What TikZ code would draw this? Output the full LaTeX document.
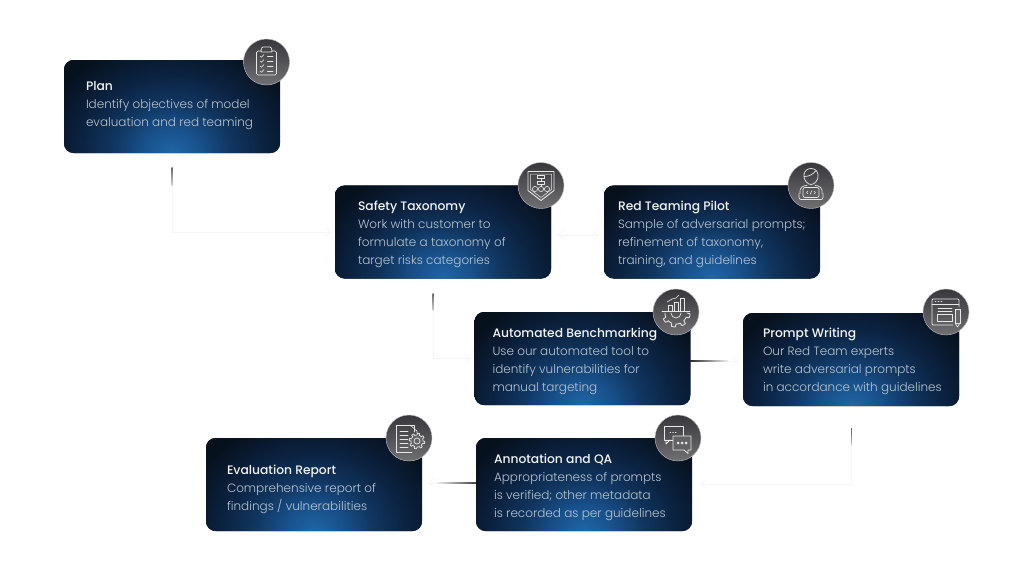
\documentclass[tikz,border=0pt]{standalone}
\usepackage{fontspec}
\setmainfont{Poppins Light}
\newfontfamily\titlefont{Poppins Medium}
\usetikzlibrary{arrows.meta,calc}
\definecolor{cardDark}{HTML}{07111E}
\definecolor{glowA}{HTML}{1F66A6}
\definecolor{glowB}{HTML}{18508A}
\definecolor{glowC}{HTML}{10355F}
\definecolor{glowD}{HTML}{0B2342}
\definecolor{bodyText}{HTML}{BAC5CF}
\definecolor{titleText}{HTML}{F2F4F6}
\definecolor{faintLine}{HTML}{F4F7F1}
\definecolor{badgeTop}{HTML}{37373C}
\definecolor{badgeBot}{HTML}{707073}
\definecolor{iconLine}{HTML}{E8E8E8}
\pgfdeclareradialshading{cardglow}{\pgfpointorigin}{%
 color(0bp)=(glowA); color(7bp)=(glowB); color(14bp)=(glowC); color(21bp)=(glowD); color(31bp)=(cardDark); color(50bp)=(cardDark)}
\tikzset{
 card/.style={minimum width=216pt,minimum height=93pt,inner sep=0pt,rounded corners=10pt,fill=cardDark},
 cardtext/.style={anchor=west,align=left,inner sep=0pt,text=bodyText,font=\fontsize{12}{18}\selectfont},
 badge/.style={circle,minimum size=46pt,inner sep=0pt,top color=badgeTop,bottom color=badgeBot,draw=white!55!badgeBot,line width=.4pt},
 ico/.style={draw=iconLine,line width=.7pt,line cap=round,line join=round},
 faint/.style={draw=faintLine,line width=.7pt,-{Straight Barb[length=5pt,width=9pt]}},
}
\newcommand{\glow}[1]{\begin{scope}
 \clip[rounded corners=10pt] (#1.south west) rectangle (#1.north east);
 \shade[shading=cardglow] ([xshift=-108pt,yshift=-93pt]#1.south) rectangle ([xshift=108pt,yshift=93pt]#1.south);
 \end{scope}}
\newcommand{\ttl}[1]{{\titlefont\color{titleText}\fontsize{12.3}{18}\selectfont #1}}
\begin{document}
\begin{tikzpicture}[x=1pt,y=-1pt]
\useasboundingbox[fill=white] (0,0) rectangle (1024,576);

% connectors
\node[card] (plan) at (172,106.5) {};
\node[card] (safety) at (443,232) {};
\node[card] (pilot) at (712,232) {};
\node[card] (bench) at (582.5,358.5) {};
\node[card] (prompt) at (851,359.5) {};
\node[card] (annot) at (584,484.5) {};
\node[card] (report) at (314,484.5) {};

\draw[faint,shorten <=14pt,shorten >=4pt] (plan.south) |- (safety.west);
\draw[faint,shorten <=14pt,shorten >=4pt] ([xshift=-10pt]safety.south) |- (bench.west);
\draw[faint,shorten <=22pt,shorten >=8pt] (prompt.south) |- (annot.east);
\draw[faint,shorten <=7pt,shorten >=5pt,{Straight Barb[length=5pt,width=9pt]}-{Straight Barb[length=5pt,width=9pt]}] (safety.east |- 0,235) -- (pilot.west |- 0,235);
\draw[faint,shorten >=5pt] (bench.east |- 0,361) -- (prompt.west |- 0,361);
\draw[faint,shorten >=6pt] (annot.west |- 0,483) -- (report.east |- 0,483);

% dark stubs that fade along the connectors
\shade[top color=black!60,bottom color=black!20] (171.7,167) rectangle (172.5,185);
\shade[top color=black!60,bottom color=black!20] (432.7,293) rectangle (433.5,310);
\shade[top color=black!65,bottom color=black!25] (851.1,428) rectangle (851.9,444);
\shade[left color=black!85,right color=black!5] (690,360.7) rectangle (728,361.3);
\shade[left color=black!5,right color=black!75] (436,482.7) rectangle (476,483.3);

% cards
\glow{plan}\glow{safety}\glow{pilot}\glow{bench}\glow{prompt}\glow{annot}\glow{report}

\node[cardtext] (planT) at ([xshift=22pt,yshift=1pt]plan.west) {\ttl{Plan}\\Identify objectives of model\\evaluation and red teaming};
\node[cardtext] (safetyT) at ([xshift=23pt,yshift=-2.5pt]safety.west) {\ttl{Safety Taxonomy}\\Work with customer to\\formulate a taxonomy of\\target risks categories};
\node[cardtext] (pilotT) at ([xshift=14pt,yshift=-2.5pt]pilot.west) {\ttl{Red Teaming Pilot}\\Sample of adversarial prompts;\\refinement of taxonomy,\\training, and guidelines};
\node[cardtext] (benchT) at ([xshift=18pt,yshift=-3pt]bench.west) {\ttl{Automated Benchmarking}\\Use our automated tool to\\identify vulnerabilities for\\manual targeting};
\node[cardtext] (promptT) at ([xshift=20pt,yshift=-2pt]prompt.west) {\ttl{Prompt Writing}\\Our Red Team experts\\write adversarial prompts\\in accordance with guidelines};
\node[cardtext] (annotT) at ([xshift=18pt,yshift=-3pt]annot.west) {\ttl{Annotation and QA}\\Appropriateness of prompts\\is verified; other metadata\\is recorded as per guidelines};
\node[cardtext] (reportT) at ([xshift=21pt,yshift=-5pt]report.west) {\ttl{Evaluation Report}\\Comprehensive report of\\findings / vulnerabilities};

% badges
\node[badge] (planB) at (266.5,62) {};
\node[badge] (safetyB) at (541,185.5) {};
\node[badge] (pilotB) at (811,185.5) {};
\node[badge] (benchB) at (676,312) {};
\node[badge] (promptB) at (946,312) {};
\node[badge] (annotB) at (678,438) {};
\node[badge] (reportB) at (409,438) {};

% clipboard
\begin{scope}[shift={(planB.center)}]
 \draw[ico,rounded corners=1.5pt] (-5,-11) -- (-10,-11) -- (-10,13) -- (10,13) -- (10,-11) -- (5,-11);
 \draw[ico,rounded corners=1pt] (-6,-10) -- (-4.5,-15) -- (4.5,-15) -- (6,-10) -- cycle;
 \foreach \yy in {-6,-1,4,9}{
  \draw[ico,line width=.6pt] (-6.5,\yy) -- (-5,\yy+1.3) -- (-2.5,\yy-1.5);
  \draw[ico,line width=.6pt] (1,\yy) -- (6.5,\yy);}
\end{scope}
% shield
\begin{scope}[shift={(safetyB.center)}]
 \draw[ico,line width=.9pt] (-13,-14) -- (13,-14) -- (13,5) -- (0,15) -- (-13,5) -- cycle;
 \draw[ico,line width=.5pt] (-10.5,-11.5) -- (10.5,-11.5) -- (10.5,4) -- (0,12) -- (-10.5,4) -- cycle;
 \draw[ico,line width=.6pt] (-3.5,-10) rectangle (3.5,-7);
 \draw[ico,line width=.6pt] (-3.5,-4) rectangle (3.5,-1);
 \draw[ico,line width=.6pt] (0,-7) -- (0,-4) (0,-1) -- (0,1);
 \foreach \xx in {-6,0,6}{\draw[ico,line width=.6pt] (\xx,3.5) circle[radius=2.6];}
\end{scope}
% person with laptop
\begin{scope}[shift={(pilotB.center)}]
 \draw[ico] (-7,-11) .. controls (-6,-19) and (6,-19) .. (7,-11) .. controls (8,-5) and (3,-1) .. (0,-1) .. controls (-3,-1) and (-8,-5) .. (-7,-11);
 \draw[ico] (-7,-9) .. controls (-2,-9) and (2,-11) .. (5,-15);
 \draw[ico] (-11,8) .. controls (-12,2) and (-8,0) .. (-4,0);
 \draw[ico] (11,8) .. controls (12,2) and (8,0) .. (4,0);
 \draw[ico,rounded corners=2pt] (-8,2) rectangle (8,12);
 \draw[ico,rounded corners=2pt] (-12,8) -- (-12,14) -- (12,14) -- (12,8);
 \draw[ico,line width=.5pt] (-3,5.5) -- (-4.5,7) -- (-3,8.5) (3,5.5) -- (4.5,7) -- (3,8.5) (1,5) -- (-1,9);
\end{scope}
% benchmarking
\begin{scope}[shift={(benchB.center)}]
 \draw[ico,line width=.6pt] (-8,-1) -- (-8,-7) -- (-4,-7) -- (-4,-1);
 \draw[ico,line width=.6pt] (-2,-1) -- (-2,-10) -- (2,-10) -- (2,-1);
 \draw[ico,line width=.6pt] (4,-1) -- (4,-14) -- (8,-14) -- (8,-1);
 \draw[ico,line width=.6pt] (-9,-10) -- (-4,-13) -- (0,-14) -- (3,-17);
 \draw[ico] (-14,-1) -- (14,-1);
 \draw[ico,line width=.8pt] plot[domain=0:180,samples=65] ({(11+(sin(8*\x)>0?3:0))*cos(\x)},{1+(11+(sin(8*\x)>0?3:0))*sin(\x)});
 \draw[ico] (-5,1) arc[start angle=180,end angle=0,radius=5];
\end{scope}
% prompt window
\begin{scope}[shift={(promptB.center)}]
 \draw[ico,line width=.8pt,rounded corners=1pt] (7,13) -- (-14,13) -- (-14,-13) -- (13,-13) -- (13,-5);
 \draw[ico,line width=.6pt] (-14,-8) -- (13,-8);
 \draw[ico,line width=.6pt] (-11,-10.5) -- (-10,-10.5) (-8,-10.5) -- (-7,-10.5) (-5,-10.5) -- (-4,-10.5);
 \draw[ico,line width=.6pt] (-8,-4) -- (6,-4) (-8,-1) -- (6,-1);
 \draw[ico,line width=.7pt] (-9,2) rectangle (6,9);
 \draw[ico,line width=.7pt,fill=badgeBot!90!black] (9,-3) rectangle (14,11);
 \draw[ico,line width=.7pt] (9,11) -- (11.5,15) -- (14,11);
\end{scope}
% chat bubbles
\begin{scope}[shift={(annotB.center)}]
 \draw[ico,line width=.8pt] (-14,-12) rectangle (5,2);
 \draw[ico,line width=.8pt] (-12,2) -- (-12,6) -- (-8,2);
 \draw[ico,line width=.7pt,dotted] (-8,-6) -- (0,-6);
 \draw[ico,line width=.8pt,fill=badgeBot!75!badgeTop] (-5,-2) -- (13,-2) -- (13,12) -- (10,12) -- (10,15.5) -- (6,12) -- (-5,12) -- cycle;
 \foreach \xx in {0,4,8}{\fill[iconLine] (\xx,5) circle[radius=1.5];}
\end{scope}
% report with gear
\begin{scope}[shift={(reportB.center)}]
 \draw[ico,line width=.8pt] (5,-6) -- (5,-13) -- (-13,-13) -- (-13,14) -- (3,14);
 \draw[ico,line width=.6pt] (1,-13) -- (8,-7) -- (8,-5);
 \foreach \yy in {-7,-3,1,5,9}{\draw[ico,line width=.6pt] (-9,\yy) -- (-1,\yy);}
 \draw[ico,fill=badgeBot!75!badgeTop] plot[domain=0:360,samples=129] ({8+(6+(sin(8*\x)>0?1.8:0))*cos(\x)},{3+(6+(sin(8*\x)>0?1.8:0))*sin(\x)}) -- cycle;
 \draw[ico] (8,3) circle[radius=3];
\end{scope}
\end{tikzpicture}
\end{document}
